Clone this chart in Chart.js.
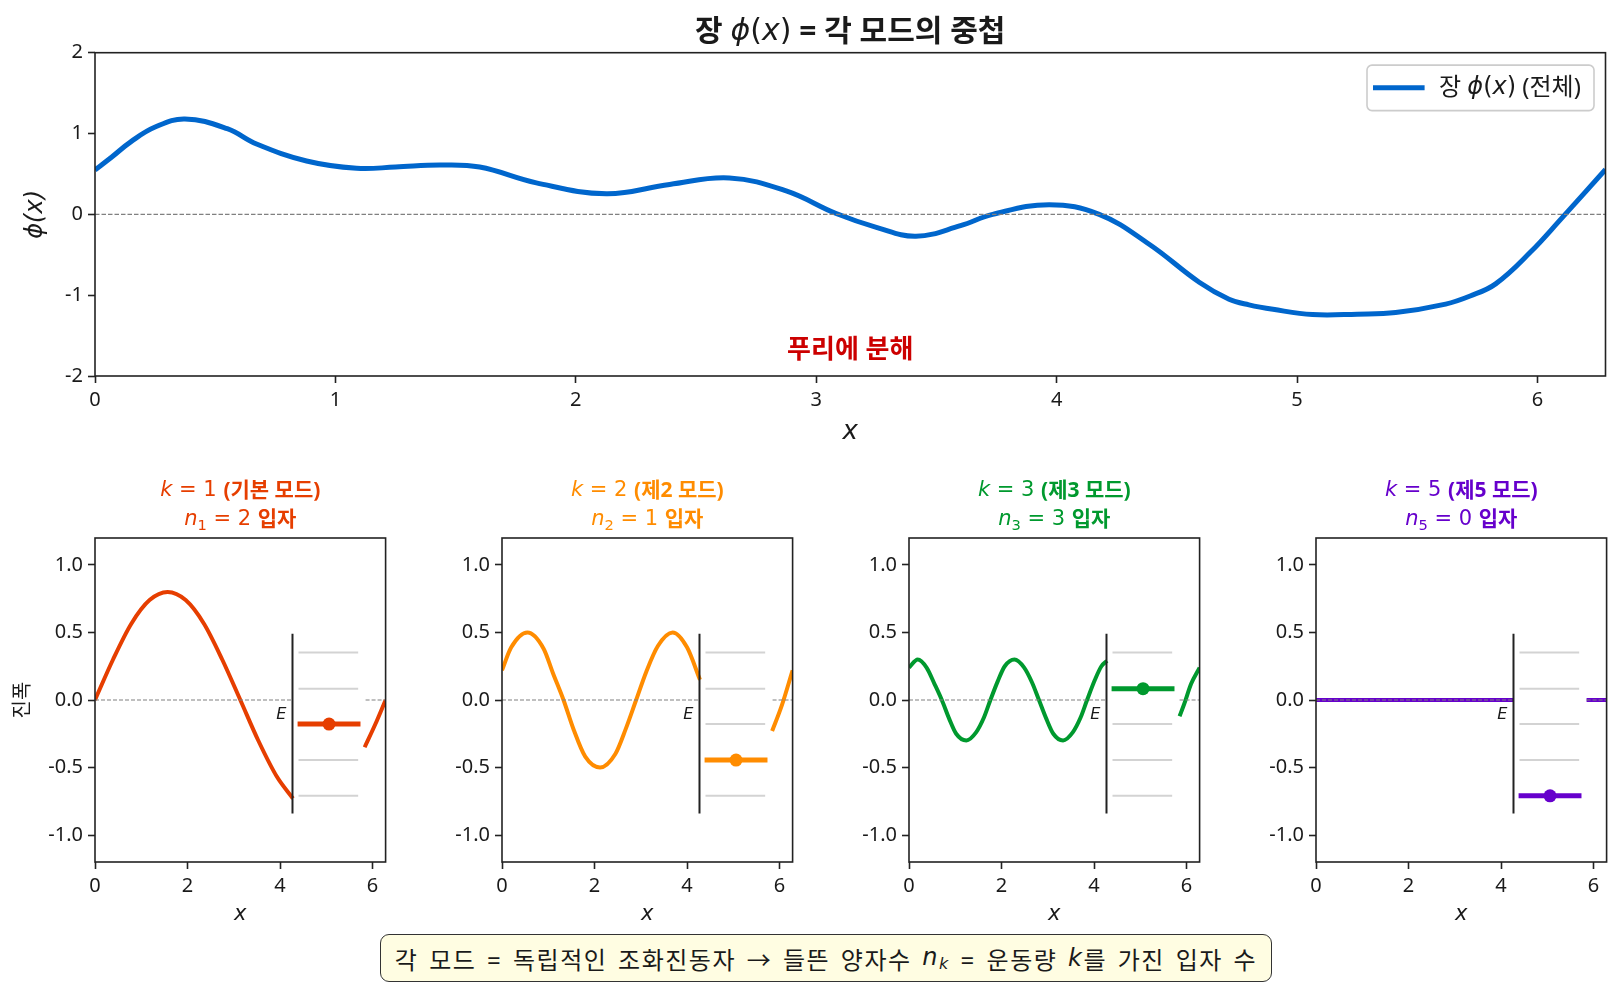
<!DOCTYPE html>
<html>
<head>
<meta charset="utf-8">
<script src="https://cdn.jsdelivr.net/npm/chart.js@4.4.1/dist/chart.umd.min.js"></script>
<style>
  html, body { margin: 0; padding: 0; background: #fff; }
  #page { position: relative; width: 1621px; height: 988px; overflow: hidden; }
  #page canvas { position: absolute; }
  #note {
    position: absolute; left: 380px; top: 934px; width: 892px; height: 48px;
    box-sizing: border-box; border: 1.6px solid #333; border-radius: 9px;
    background: #fffde2; color: #1a1a1a; white-space: nowrap;
    font: 24px "Noto Sans", "Noto Sans CJK KR", sans-serif;
    letter-spacing: 1.5px; word-spacing: 3px;
    display: flex; align-items: center; justify-content: center;
  }
  #note i { font-family: "DejaVu Sans", sans-serif; }
  #note sub { font-size: 16px; vertical-align: -4px; }
</style>
</head>
<body>
<div id="page">
  <canvas id="top" width="1621" height="450" style="left:0;top:0"></canvas>
  <canvas id="m0" width="400" height="480" style="left:0;top:450px"></canvas>
  <canvas id="m1" width="400" height="480" style="left:407px;top:450px"></canvas>
  <canvas id="m2" width="400" height="480" style="left:814px;top:450px"></canvas>
  <canvas id="m3" width="400" height="480" style="left:1221px;top:450px"></canvas>
  <div id="note">각 모드 = 독립적인 조화진동자 → 들뜬 양자수&nbsp;<i>n<sub>k</sub></i>&nbsp;= 운동량&nbsp;<i>k</i>를 가진 입자 수</div>
</div>
<script>
// ---- 데이터 ----
const X_MAX = 6.283;
const TOP_X_TICKS = [0, 1, 2, 3, 4, 5, 6];
const TOP_Y_TICKS = [-2, -1, 0, 1, 2];

// 전체 장 phi(x)
const TOP_X   = [0, 0.07, 0.15, 0.25, 0.374, 0.55, 0.672, 0.88, 1.088, 1.25, 1.434, 1.6, 1.836, 2.127, 2.39, 2.639, 2.875, 3.083, 3.25, 3.415, 3.6, 3.734, 3.969, 4.177, 4.385, 4.593, 4.717, 4.8, 4.9, 5.064, 5.25, 5.41, 5.618, 5.72, 5.826, 5.97, 6.103, 6.283];
const TOP_PHI = [0.55, 0.71, 0.90, 1.08, 1.18, 1.06, 0.87, 0.66, 0.57, 0.585, 0.61, 0.585, 0.39, 0.255, 0.37, 0.45, 0.29, 0.01, -0.16, -0.27, -0.14, 0.0, 0.12, 0.0, -0.37, -0.84, -1.05, -1.12, -1.175, -1.24, -1.235, -1.215, -1.11, -1.01, -0.86, -0.47, -0.04, 0.555];

// 각 모드
const MODE_K = [1, 2, 3, 5];
const MODE_N = [2, 1, 3, 0];
const MODE_NAME = ['기본 모드', '제2 모드', '제3 모드', '제5 모드'];

const K1_X = [0, 0.39, 0.785, 1.18, 1.571, 1.96, 2.356, 2.75, 3.142, 3.53, 3.927, 4.28, 5.0, 5.83, 6.06, 6.283];
const K1_Y = [0, 0.30, 0.565, 0.74, 0.80, 0.74, 0.565, 0.30, 0, -0.30, -0.565, -0.73, null, -0.35, -0.18, 0];
const K2_X = [0, 0.2, 0.55, 0.9, 1.1, 1.33, 1.55, 1.8, 2.12, 2.45, 2.68, 2.9, 3.12, 3.37, 3.69, 4.0, 4.28, 5.0, 5.84, 6.05, 6.283];
const K2_Y = [0.22, 0.39, 0.50, 0.38, 0.20, 0, -0.22, -0.42, -0.50, -0.40, -0.21, 0, 0.21, 0.40, 0.50, 0.39, 0.15, null, -0.23, -0.04, 0.22];
const K3_X = [0, 0.19, 0.38, 0.55, 0.71, 0.87, 1.02, 1.24, 1.45, 1.62, 1.76, 1.92, 2.07, 2.28, 2.49, 2.66, 2.81, 2.97, 3.12, 3.33, 3.54, 3.71, 3.85, 4.02, 4.16, 4.28, 5.0, 5.85, 5.95, 6.1, 6.283];
const K3_Y = [0.24, 0.30, 0.24, 0.12, 0, -0.14, -0.25, -0.30, -0.24, -0.13, 0, 0.14, 0.25, 0.30, 0.24, 0.13, 0, -0.14, -0.25, -0.30, -0.24, -0.13, 0, 0.15, 0.25, 0.29, null, -0.12, -0.03, 0.12, 0.24];
const K5_X = [0, 4.28, 5.0, 5.85, 6.283];
const K5_Y = [0, 0, null, 0, 0];
const MODE_X = [K1_X, K2_X, K3_X, K5_X];
const MODE_Y = [K1_Y, K2_Y, K3_Y, K5_Y];

const MODE_X_TICKS = [0, 2, 4, 6];
const MODE_Y_TICKS = [-1, -0.5, 0, 0.5, 1];

// 에너지 준위 그림
const LEVEL_E = [-0.71, -0.445, -0.178, 0.084, 0.351];
const E_AXIS_X = 4.27;
const E_AXIS_Y = [0.49, -0.84];
const LEVEL_X = [4.40, 5.69];
const BAR_X = [4.38, 5.74];
const DOT_X = 5.06;
const E_LABEL = [4.03, -0.11];
const ZERO_X = [0, 4.28, 5.0, 5.85, X_MAX];
const ZERO_Y = [0, 0, null, 0, 0];

// ---- 스타일 ----
const MODE_COLOR = ['#e63e00', '#ff8c00', '#00992e', '#6600cc'];
const FIELD_COLOR = '#0066cc';
const TXT = '"Noto Sans", "Noto Sans CJK KR", sans-serif';
const MATH = '"DejaVu Sans", sans-serif';
const INK = '#1a1a1a';

const pts = (xs, ys) => xs.map((x, i) => ({ x: x, y: ys[i] }));

function segFont(sg, size) {
  const s = sg.sub ? size * 0.7 : size;
  if (sg.math) return (sg.it ? 'italic ' : '') + s + 'px ' + MATH;
  return (sg.bold ? 'bold ' : '') + s + 'px ' + TXT;
}

// 여러 글꼴이 섞인 한 줄 그리기
function drawRich(ctx, segs, x, y, size, color, align) {
  ctx.save();
  ctx.textBaseline = 'middle';
  ctx.textAlign = 'left';
  ctx.fillStyle = color;
  let total = 0;
  const w = segs.map(sg => {
    ctx.font = segFont(sg, size);
    const m = ctx.measureText(sg.t).width;
    total += m;
    return m;
  });
  let cx = align === 'left' ? x : x - total / 2;
  segs.forEach((sg, i) => {
    ctx.font = segFont(sg, size);
    ctx.fillText(sg.t, cx, y + (sg.sub ? size * 0.28 : 0));
    cx += w[i];
  });
  ctx.restore();
}

const framePlugin = {
  id: 'frame',
  afterDatasetsDraw(chart) {
    const a = chart.chartArea, ctx = chart.ctx;
    ctx.save();
    ctx.strokeStyle = '#222';
    ctx.lineWidth = 1.6;
    ctx.strokeRect(a.left, a.top, a.right - a.left, a.bottom - a.top);
    ctx.restore();
  }
};

function axisTicks(list, fmt, fontSize) {
  return {
    grid: { display: true, drawOnChartArea: false, drawTicks: true, tickLength: 7, tickWidth: 1.6, tickColor: '#222' },
    border: { display: false },
    afterBuildTicks: s => { s.ticks = list.map(v => ({ value: v })); },
    ticks: { autoSkip: false, maxRotation: 0, padding: 5, color: INK, font: { family: TXT, size: fontSize }, callback: v => fmt(v) }
  };
}

// ---- 위: 전체 장 ----
const topText = {
  id: 'topText',
  afterDraw(chart) {
    const a = chart.chartArea, ctx = chart.ctx;
    const mid = (a.left + a.right) / 2;
    drawRich(ctx, [
      { t: '장 ', bold: 1 }, { t: 'ϕ', math: 1, it: 1 }, { t: '(', math: 1 }, { t: 'x', math: 1, it: 1 }, { t: ')', math: 1 },
      { t: ' = 각 모드의 중첩', bold: 1 }
    ], mid, a.top - 20, 30, INK);

    ctx.save();
    ctx.font = 'bold 26px ' + TXT;
    ctx.fillStyle = '#cc0000';
    ctx.textAlign = 'center';
    ctx.textBaseline = 'middle';
    ctx.fillText('푸리에 분해', mid, a.bottom - 25);
    ctx.restore();

    // 범례
    const bw = 227, bh = 45.5;
    const bx = a.right - 11.5 - bw, by = a.top + 12.4;
    ctx.save();
    ctx.beginPath();
    ctx.roundRect(bx, by, bw, bh, 5);
    ctx.fillStyle = 'rgba(255,255,255,0.85)';
    ctx.fill();
    ctx.strokeStyle = '#cccccc';
    ctx.lineWidth = 1.6;
    ctx.stroke();
    ctx.beginPath();
    ctx.moveTo(bx + 6, by + bh / 2);
    ctx.lineTo(bx + 57.6, by + bh / 2);
    ctx.strokeStyle = FIELD_COLOR;
    ctx.lineWidth = 5;
    ctx.stroke();
    ctx.restore();
    drawRich(ctx, [
      { t: '장 ' }, { t: 'ϕ', math: 1, it: 1 }, { t: '(', math: 1 }, { t: 'x', math: 1, it: 1 }, { t: ')', math: 1 }, { t: ' (전체)' }
    ], bx + 72, by + bh / 2, 24, INK, 'left');
  }
};

const topX = axisTicks(TOP_X_TICKS, v => String(v), 20);
const topY = axisTicks(TOP_Y_TICKS, v => String(v), 20);

new Chart(document.getElementById('top'), {
  type: 'line',
  data: {
    datasets: [
      { data: pts(TOP_X, TOP_PHI), borderColor: FIELD_COLOR, borderWidth: 5, pointRadius: 0, tension: 0.4, order: 2 },
      { data: pts([0, X_MAX], [0, 0]), borderColor: '#808080', borderWidth: 1.2, borderDash: [4.5, 2], pointRadius: 0, order: 1 }
    ]
  },
  options: {
    responsive: false,
    animation: false,
    layout: { padding: { left: 21.6, top: 52.7, right: 15.5, bottom: 2.4 } },
    plugins: { legend: { display: false }, tooltip: { enabled: false } },
    scales: {
      x: Object.assign(topX, {
        type: 'linear', min: 0, max: X_MAX,
        afterFit: s => { s.height = 71.6; },
        title: { display: true, text: 'x', padding: 0, color: INK, font: { family: MATH, style: 'italic', size: 26 } }
      }),
      y: Object.assign(topY, {
        type: 'linear', min: -2, max: 2,
        afterFit: s => { s.width = 73.4; },
        title: { display: true, text: 'ϕ(x)', padding: 0, color: INK, font: { family: MATH, style: 'italic', size: 24 } }
      })
    }
  },
  plugins: [framePlugin, topText]
});

// ---- 아래: 모드별 그림 ----
MODE_K.forEach((k, i) => {
  const color = MODE_COLOR[i];
  const n = MODE_N[i];
  const datasets = [
    { data: pts(MODE_X[i], MODE_Y[i]), borderColor: color, borderWidth: 4, pointRadius: 0, cubicInterpolationMode: 'monotone', order: 6 },
    { data: pts(ZERO_X, ZERO_Y), borderColor: '#808080', borderWidth: 1.1, borderDash: [4, 2], pointRadius: 0, order: 5 },
    { data: pts([E_AXIS_X, E_AXIS_X], E_AXIS_Y), borderColor: '#222', borderWidth: 2, pointRadius: 0, order: 3 }
  ];
  LEVEL_E.forEach(e => {
    datasets.push({ data: pts(LEVEL_X, [e, e]), borderColor: '#d3d3d3', borderWidth: 2, pointRadius: 0, order: 4 });
  });
  datasets.push({ data: pts(BAR_X, [LEVEL_E[n], LEVEL_E[n]]), borderColor: color, borderWidth: 5, pointRadius: 0, order: 2 });
  datasets.push({ data: [{ x: DOT_X, y: LEVEL_E[n] }], showLine: false, pointRadius: 6.5, pointBackgroundColor: color, pointBorderWidth: 0, order: 1 });

  const panelText = {
    id: 'panelText' + i,
    afterDraw(chart) {
      const a = chart.chartArea, ctx = chart.ctx;
      const mid = (a.left + a.right) / 2;
      drawRich(ctx, [
        { t: 'k', math: 1, it: 1 }, { t: ' = ' + k + ' ', math: 1 }, { t: '(' + MODE_NAME[i] + ')', bold: 1 }
      ], mid, a.top - 47, 21, color);
      drawRich(ctx, [
        { t: 'n', math: 1, it: 1 }, { t: String(k), math: 1, sub: 1 }, { t: ' = ' + n + ' ', math: 1 }, { t: '입자', bold: 1 }
      ], mid, a.top - 18, 21, color);
      const sx = chart.scales.x, sy = chart.scales.y;
      ctx.save();
      ctx.font = 'italic 16px ' + MATH;
      ctx.fillStyle = INK;
      ctx.textAlign = 'center';
      ctx.textBaseline = 'middle';
      ctx.fillText('E', sx.getPixelForValue(E_LABEL[0]), sy.getPixelForValue(E_LABEL[1]));
      ctx.restore();
    }
  };

  const mx = axisTicks(MODE_X_TICKS, v => String(v), 20);
  const my = axisTicks(MODE_Y_TICKS, v => v.toFixed(1), 20);

  new Chart(document.getElementById('m' + i), {
    type: 'line',
    data: { datasets: datasets },
    options: {
      responsive: false,
      animation: false,
      layout: { padding: { left: 11, top: 88, right: 14.4, bottom: 2.4 } },
      plugins: { legend: { display: false }, tooltip: { enabled: false } },
      scales: {
        x: Object.assign(mx, {
          type: 'linear', min: 0, max: X_MAX,
          afterFit: s => { s.height = 65.6; },
          title: { display: true, text: 'x', padding: 0, color: INK, font: { family: MATH, style: 'italic', size: 21 } }
        }),
        y: Object.assign(my, {
          type: 'linear', min: -1.2, max: 1.2,
          afterFit: s => { s.width = 84; },
          title: { display: i === 0, text: '진폭', padding: 0, color: INK, font: { family: TXT, size: 20 } }
        })
      }
    },
    plugins: [framePlugin, panelText]
  });
});
</script>
</body>
</html>
